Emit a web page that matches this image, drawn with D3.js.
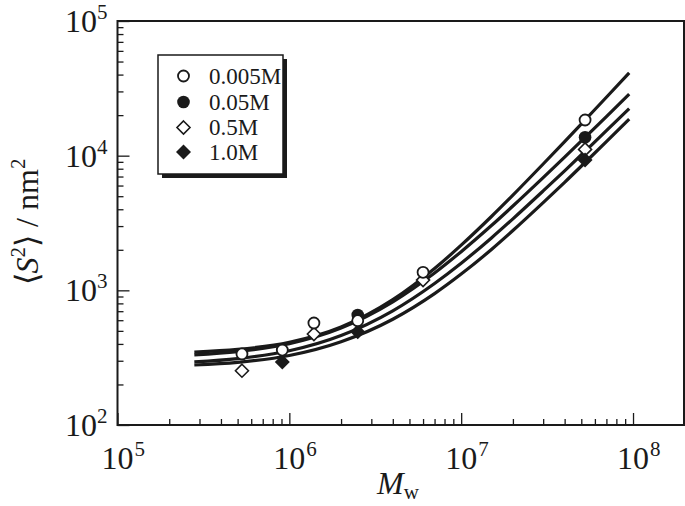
<!DOCTYPE html>
<html><head><meta charset="utf-8">
<script src="https://cdn.jsdelivr.net/npm/d3@7"></script>
<style>
body{margin:0;background:#fff;}
svg text{font-family:'Liberation Serif','Times New Roman',Times,serif;fill:#1a1a1a;}
</style></head>
<body><svg id="c" width="685" height="506" font-family="'Liberation Serif', 'Times New Roman', Times, serif"></svg>
<script>
// ---- data ----
const seriesNames = ["0.005M","0.05M","0.5M","1.0M"];
const ptsM_005 = [5.3e5, 9.1e5, 1.39e6, 2.5e6, 6.0e6, 5.26e7];
const ptsV_005 = [337, 360, 572, 595, 1361, 18400];
const ptsM_05 = [2.5e6, 5.26e7];
const ptsV_05 = [655, 13700];
const ptsM_5 = [5.3e5, 1.39e6, 6.0e6, 5.26e7];
const ptsV_5 = [253, 474, 1192, 11130];
const ptsM_10 = [9.1e5, 2.5e6, 5.26e7];
const ptsV_10 = [294, 493, 9280];

const curveM = [2.8e5, 5e5, 1e6, 2e6, 4e6, 7e6, 1e7, 1.5e7, 2e7, 3e7, 4e7, 5.5e7, 7e7, 9.5e7];
const curve_005 = [348, 364, 411, 534, 852, 1452, 2164, 3534, 5094, 8670, 12719, 19575, 27148, 41185];
const curve_05  = [332, 351, 402, 525, 822, 1346, 1937, 3027, 4226, 6866, 9743, 14452, 19520, 28605];
const curve_5   = [294, 311, 356, 462, 705, 1125, 1590, 2450, 3395, 5470, 7718, 11395, 15335, 22376];
const curve_10  = [279, 292, 328, 415, 610, 945, 1320, 2010, 2780, 4480, 6340, 9408, 12714, 18677];

const xMajorTicks = [1e5, 1e6, 1e7, 1e8];
const xTickExp = ["5","6","7","8"];
const yMajorTicks = [1e2, 1e3, 1e4, 1e5];
const yTickExp = ["2","3","4","5"];

// ---- layout ----
const svg = d3.select("#c");
const L = 117.5, R = 684, T = 21, B = 425;
const x = d3.scaleLog().domain([1e5, 1.98e8]).range([L, R]);
const y = d3.scaleLog().domain([1e2, 1e5]).range([B, T]);
const ink = "#1a1a1a";
const FONT = "'Liberation Serif', 'Times New Roman', Times, serif";

// minor ticks
const xMinor = [], yMinor = [];
for (let e = 5; e <= 8; e++) for (let m = 2; m <= 9; m++) { const v = m * Math.pow(10, e); if (v < 1.98e8) xMinor.push(v); }
for (let e = 2; e <= 4; e++) for (let m = 2; m <= 9; m++) yMinor.push(m * Math.pow(10, e));

function styleAxis(g){ g.select(".domain").remove(); g.selectAll("line").attr("stroke", ink).attr("stroke-width", 1.3); g.selectAll("text").remove(); }

svg.append("g").attr("transform", `translate(0,${B})`)
  .call(d3.axisBottom(x).tickValues(xMinor).tickSizeInner(-6).tickSizeOuter(0).tickFormat("")).call(styleAxis);
svg.append("g").attr("transform", `translate(0,${B})`)
  .call(d3.axisBottom(x).tickValues(xMajorTicks).tickSizeInner(-12).tickSizeOuter(0).tickFormat("")).call(styleAxis);
svg.append("g").attr("transform", `translate(${L},0)`)
  .call(d3.axisLeft(y).tickValues(yMinor).tickSizeInner(-6).tickSizeOuter(0).tickFormat("")).call(styleAxis);
svg.append("g").attr("transform", `translate(${L},0)`)
  .call(d3.axisLeft(y).tickValues(yMajorTicks).tickSizeInner(-12).tickSizeOuter(0).tickFormat("")).call(styleAxis);

// frame
svg.append("rect").attr("x", L).attr("y", T).attr("width", R - L).attr("height", B - T)
  .attr("fill", "none").attr("stroke", ink).attr("stroke-width", 2);

function txt(sel){ return sel.append("text").attr("font-family", FONT).attr("fill", ink); }

// tick labels
xMajorTicks.forEach((v, i) => {
  const g = svg.append("g").attr("transform", `translate(${x(v)},469)`);
  txt(g).attr("text-anchor", "middle").attr("font-size", 32).text("10");
  txt(g).attr("x", 17).attr("y", -13).attr("font-size", 21).text(xTickExp[i]);
});
yMajorTicks.forEach((v, i) => {
  const g = svg.append("g").attr("transform", `translate(97,${y(v) + 11})`);
  txt(g).attr("text-anchor", "end").attr("font-size", 32).text("10");
  txt(g).attr("x", 0).attr("y", -13).attr("font-size", 21).text(yTickExp[i]);
});

// axis titles
const xt = txt(svg).attr("x", 398).attr("y", 494).attr("text-anchor", "middle").attr("font-size", 32);
xt.append("tspan").attr("font-style", "italic").text("M");
xt.append("tspan").attr("font-size", 21).attr("dy", 5).text("w");

const yt = txt(svg).attr("transform", "translate(38,222) rotate(-90)").attr("text-anchor", "middle").attr("font-size", 32);
yt.append("tspan").text("\u27E8");
yt.append("tspan").attr("font-style", "italic").text("S");
yt.append("tspan").attr("font-size", 21).attr("dy", -13).text("2");
yt.append("tspan").attr("dy", 13).text("\u27E9 / nm");
yt.append("tspan").attr("font-size", 21).attr("dy", -13).text("2");

// curves
const line = d3.line().x(d => x(d[0])).y(d => y(d[1])).curve(d3.curveMonotoneX);
[curve_005, curve_05, curve_5, curve_10].forEach(c => {
  svg.append("path").datum(curveM.map((m, i) => [m, c[i]]))
    .attr("d", line).attr("fill", "none").attr("stroke", ink).attr("stroke-width", 3.2);
});

// markers
function drawMarker(g, type, cx, cy) {
  if (type === "oc") g.append("circle").attr("cx", cx).attr("cy", cy).attr("r", 5.5).attr("fill", "#fff").attr("stroke", ink).attr("stroke-width", 1.8);
  if (type === "fc") g.append("circle").attr("cx", cx).attr("cy", cy).attr("r", 6.3).attr("fill", ink);
  if (type === "od") g.append("path").attr("d", `M${cx},${cy-6.5}L${cx+6.5},${cy}L${cx},${cy+6.5}L${cx-6.5},${cy}Z`).attr("fill", "#fff").attr("stroke", ink).attr("stroke-width", 1.6);
  if (type === "fd") g.append("path").attr("d", `M${cx},${cy-7.5}L${cx+7.5},${cy}L${cx},${cy+7.5}L${cx-7.5},${cy}Z`).attr("fill", ink);
}
const mk = svg.append("g");
const series = [
  {t: "od", M: ptsM_5, V: ptsV_5},
  {t: "fd", M: ptsM_10, V: ptsV_10},
  {t: "fc", M: ptsM_05, V: ptsV_05},
  {t: "oc", M: ptsM_005, V: ptsV_005}
];
series.forEach(s => s.M.forEach((m, i) => drawMarker(mk, s.t, x(m), y(s.V[i]))));

// legend
const lg = svg.append("g");
lg.append("rect").attr("x", 162).attr("y", 59).attr("width", 125).attr("height", 119).attr("fill", ink);
lg.append("rect").attr("x", 158).attr("y", 55).attr("width", 125).attr("height", 119).attr("fill", "#fff").attr("stroke", ink).attr("stroke-width", 1.5);
const legTypes = ["oc", "fc", "od", "fd"];
const legY = [76, 102, 127.5, 152];
seriesNames.forEach((n, i) => {
  drawMarker(lg, legTypes[i], 183.5, legY[i]);
  txt(lg).attr("x", 209).attr("y", legY[i] + 7.5).attr("font-size", 23).text(n);
});
</script></body></html>
